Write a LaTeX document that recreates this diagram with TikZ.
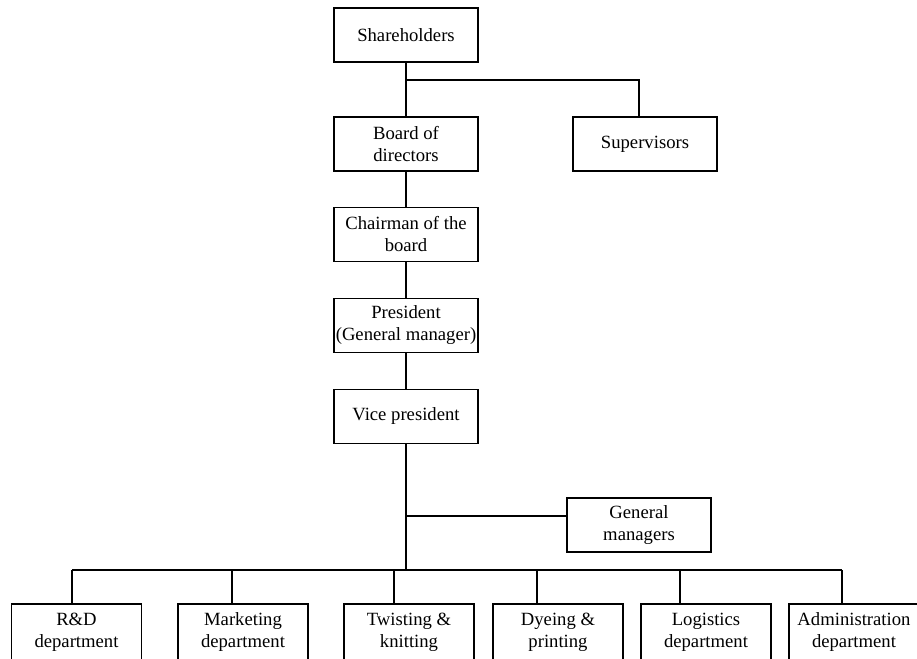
\documentclass[tikz,border=0pt]{standalone}
\usepackage{fontspec}
\setmainfont{Liberation Serif}
\begin{document}
\begin{tikzpicture}[x=0.75pt, y=-0.75pt, line width=0.8pt,
  box/.style={draw, minimum width=108pt, minimum height=40.5pt, inner sep=0pt,
    align=center, font=\fontsize{14}{16.5}\selectfont},
  dept/.style={box, minimum width=97.5pt, minimum height=42pt}]
\useasboundingbox (0,0) rectangle (917,658);
% main line
\node[box] (share) at (406,35) {Shareholders};
\node[box] (board) at (406,144) {Board of\\directors};
\node[box] (sup) at (645,144) {Supervisors};
\node[box] (chair) at (406,234.5) {Chairman of the\\board};
\node[box] (pres) at (406,325.5) {President\\(General manager)};
\node[box] (vice) at (406,416.5) {Vice president};
\node[box] (gm) at (639,525) {General\\managers};
\coordinate (top) at (406,80);
\coordinate (supin) at (639,117);
\coordinate (gmj) at (406,516);
\draw (share) -- (board);
\draw (top) -| (supin);
\draw (board) -- (chair);
\draw (chair) -- (pres);
\draw (pres) -- (vice);
\draw (gmj) -- (gmj -| gm.west);
% departments
\foreach \n/\cx/\bx/\t in {rd/72/76.5/{R\&D\\department},
    mk/232/243/{Marketing\\department},
    tw/394/409/{Twisting \&\\knitting},
    dy/537/558/{Dyeing \&\\printing},
    lg/680/706/{Logistics\\department},
    ad/842/854/{Administration\\department}}
{
    \node[dept] (\n) at (\bx,632) {\t};
    \coordinate (\n b) at (\cx,570);
    \draw (\n b) -- (\n b |- \n.north);
}
\draw (rdb) -- (adb);
\draw (vice) -- (vice |- rdb);
\end{tikzpicture}
\end{document}
